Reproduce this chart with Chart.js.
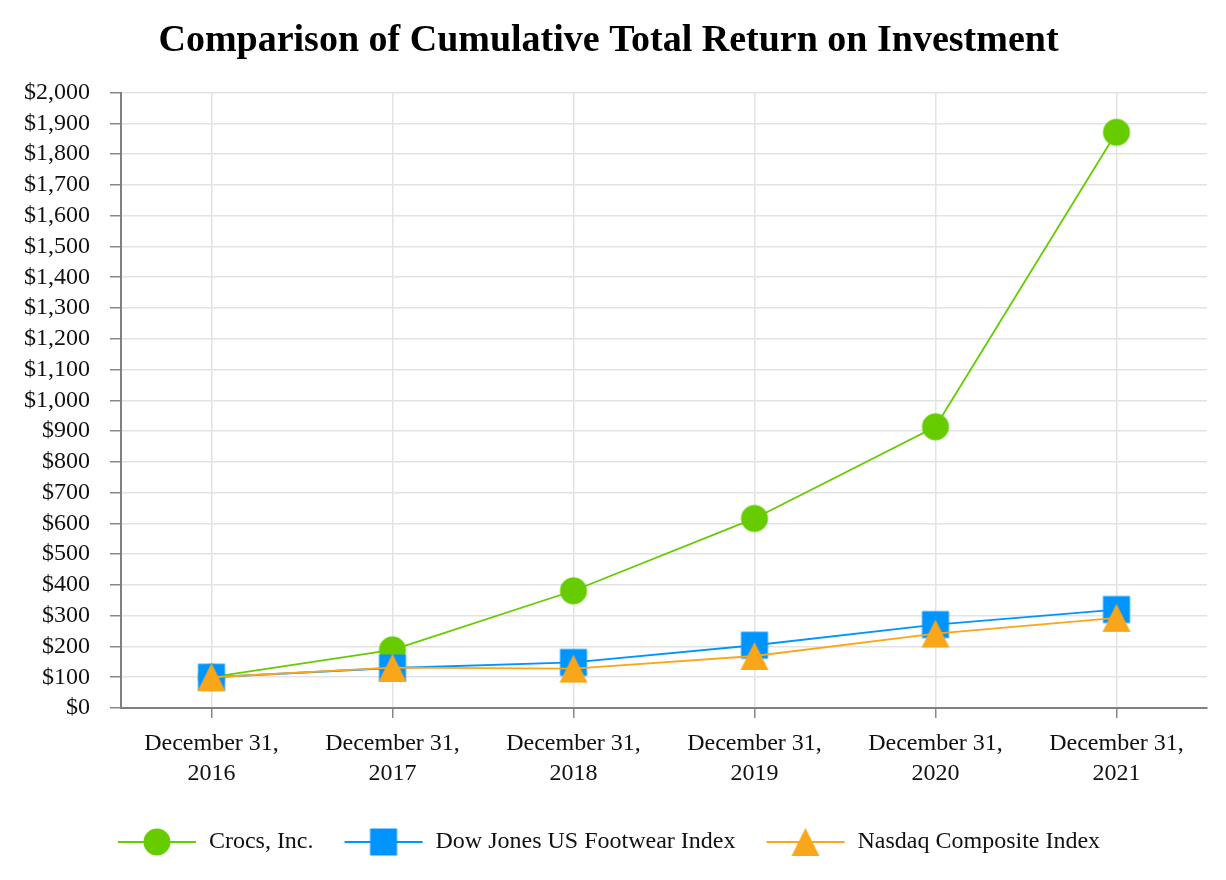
<!DOCTYPE html>
<html>
<head>
<meta charset="utf-8">
<script src="https://cdn.jsdelivr.net/npm/chart.js@4/dist/chart.umd.min.js"></script>
<style>
  html, body { margin: 0; padding: 0; background: #fff; }
  #wrap { width: 1226px; height: 880px; }
</style>
</head>
<body>
<div id="wrap"><canvas id="chart" width="1226" height="880"></canvas></div>
<script>
// data
const years = ["2016", "2017", "2018", "2019", "2020", "2021"];
const categories = years.map(y => ["December 31,", y]);
const crocs = [100, 189, 381, 616, 914, 1871];
const dowJones = [100, 130, 148, 204, 271, 320];
const nasdaq = [100, 131, 128, 169, 242, 293];

const GREEN = "#66cc00";
const BLUE = "#0094ff";
const ORANGE = "#faa61a";
const FONT = "'Liberation Serif', 'Times New Roman', serif";

// draw one marker shape centred at (cx, cy)
function shapePath(g, shape, cx, cy) {
  g.beginPath();
  if (shape === "circle") g.arc(cx, cy, 13.5, 0, Math.PI * 2);
  else if (shape === "rect") g.rect(cx - 13.5, cy - 13.5, 27, 27);
  else { g.moveTo(cx, cy - 14); g.lineTo(cx + 14, cy + 14); g.lineTo(cx - 14, cy + 14); g.closePath(); }
}

function marker(color, shape) {
  const c = document.createElement("canvas");
  c.width = 30; c.height = 30;
  const g = c.getContext("2d");
  g.fillStyle = color;
  shapePath(g, shape, 15, 15);
  g.fill();
  return c;
}

// legend swatch: short line with the marker on it
function swatch(color, shape) {
  const c = document.createElement("canvas");
  c.width = 80; c.height = 30;
  const g = c.getContext("2d");
  g.strokeStyle = color;
  g.lineWidth = 2;
  g.beginPath(); g.moveTo(1, 15); g.lineTo(79, 15); g.stroke();
  g.fillStyle = color;
  shapePath(g, shape, 40, 15);
  g.fill();
  return c;
}
const swatches = [swatch(GREEN, "circle"), swatch(BLUE, "rect"), swatch(ORANGE, "triangle")];

new Chart(document.getElementById("chart"), {
  type: "line",
  data: {
    labels: categories,
    datasets: [
      { label: "Crocs, Inc.", data: crocs, borderColor: GREEN, backgroundColor: GREEN,
        pointStyle: marker(GREEN, "circle"), order: 3 },
      { label: "Dow Jones US Footwear Index", data: dowJones, borderColor: BLUE, backgroundColor: BLUE,
        pointStyle: marker(BLUE, "rect"), order: 2 },
      { label: "Nasdaq Composite Index", data: nasdaq, borderColor: ORANGE, backgroundColor: ORANGE,
        pointStyle: marker(ORANGE, "triangle"), order: 1 }
    ]
  },
  options: {
    responsive: false,
    animation: false,
    devicePixelRatio: 1,
    elements: {
      line: { borderWidth: 1.8, tension: 0 },
      point: { radius: 14, borderWidth: 0, hoverRadius: 14 }
    },
    layout: { padding: { left: 10, right: 19, top: 0, bottom: 16 } },
    plugins: {
      title: {
        display: true,
        text: "Comparison of Cumulative Total Return on Investment",
        color: "#000",
        font: { family: FONT, size: 38, weight: "bold", lineHeight: 1.2 },
        padding: { top: 18, bottom: 29 }
      },
      legend: {
        position: "bottom",
        labels: {
          usePointStyle: true,
          pointStyleWidth: 80,
          padding: 30,
          color: "#111",
          font: { family: FONT, size: 24 },
          sort: (a, b) => a.datasetIndex - b.datasetIndex,
          generateLabels(chart) {
            const items = Chart.defaults.plugins.legend.labels.generateLabels(chart);
            items.forEach(it => { it.pointStyle = swatches[it.datasetIndex]; });
            return items;
          }
        }
      },
      tooltip: { enabled: false }
    },
    scales: {
      x: {
        offset: true,
        grid: { color: "#e3e3e3", lineWidth: 1.5, tickColor: "#888", tickLength: 10, offset: false },
        border: { color: "#808080", width: 2 },
        ticks: { color: "#111", font: { family: FONT, size: 24, lineHeight: 1.25 }, padding: 11, maxRotation: 0 }
      },
      y: {
        min: 0,
        max: 2000,
        grid: { color: "#e3e3e3", lineWidth: 1.5, tickColor: "#888", tickLength: 11 },
        border: { color: "#808080", width: 2 },
        ticks: {
          stepSize: 100,
          autoSkip: false,
          color: "#111",
          padding: 20,
          font: { family: FONT, size: 24 },
          callback: v => "$" + v.toLocaleString("en-US")
        },
        afterFit(scale) { scale.width = 111; }
      }
    }
  }
});
</script>
</body>
</html>
